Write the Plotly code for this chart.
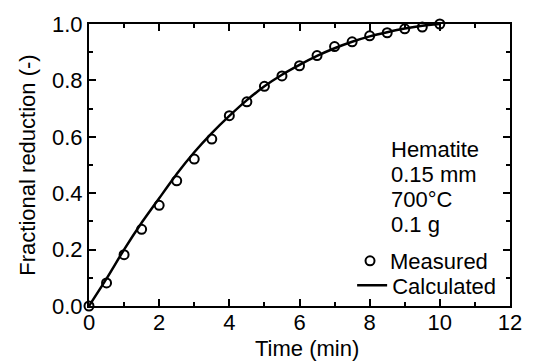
import plotly.graph_objects as go

# Measured data (open circles)
t_meas = [0, 0.5, 1, 1.5, 2, 2.5, 3, 3.5, 4, 4.5, 5, 5.5, 6, 6.5, 7, 7.5, 8, 8.5, 9, 9.5, 10]
x_meas = [0, 0.082, 0.182, 0.272, 0.357, 0.444, 0.521, 0.592, 0.675, 0.724, 0.779,
          0.816, 0.852, 0.888, 0.92, 0.937, 0.958, 0.969, 0.983, 0.989, 1.0]

# Calculated curve (solid line)
t_calc = [0, 0.5, 1, 1.5, 2, 2.5, 3, 3.5, 4, 4.5, 5, 5.5, 6, 6.5, 7, 7.5, 8, 8.5, 9, 9.5, 10]
x_calc = [0, 0.097, 0.2, 0.295, 0.382, 0.468, 0.545, 0.613, 0.674, 0.73, 0.779,
          0.82, 0.855, 0.887, 0.914, 0.937, 0.956, 0.971, 0.984, 0.994, 1.0]

x_ticks = [0, 2, 4, 6, 8, 10, 12]
y_ticks = [0.0, 0.2, 0.4, 0.6, 0.8, 1.0]
y_ticklabels = ["0.0", "0.2", "0.4", "0.6", "0.8", "1.0"]

conditions = ["Hematite", "0.15 mm", "700°C", "0.1 g"]
x_title = "Time (min)"
y_title = "Fractional reduction (-)"

FONT = "Liberation Sans, Arial, sans-serif"
FS = 22

fig = go.Figure()
fig.add_trace(go.Scatter(
    x=t_meas, y=x_meas, mode="markers", name="Measured",
    marker=dict(symbol="circle-open", size=9, color="black", line=dict(width=2)),
    cliponaxis=False, legend="legend",
))
fig.add_trace(go.Scatter(
    x=t_calc, y=x_calc, mode="lines", name="Calculated",
    line=dict(color="black", width=2.5, shape="spline", smoothing=0.6),
    cliponaxis=False, legend="legend2",
))

axis_common = dict(
    showline=True, linecolor="black", linewidth=2, mirror="ticks",
    ticks="inside", ticklen=7, tickwidth=2, tickcolor="black",
    showgrid=False, zeroline=False,
    tickfont=dict(family=FONT, size=FS, color="black"),
)

fig.update_xaxes(
    range=[0, 12], tickvals=x_ticks, ticktext=[str(v) for v in x_ticks],
    minor=dict(ticks="inside", dtick=1, ticklen=4, tickwidth=1.5, tickcolor="black"),
    ticklabelstandoff=-4,
    **axis_common,
)
fig.update_yaxes(
    range=[0, 1], tickvals=y_ticks, ticktext=y_ticklabels,
    minor=dict(ticks="inside", dtick=0.1, ticklen=4, tickwidth=1.5, tickcolor="black"),
    title=dict(text=y_title, font=dict(family=FONT, size=FS, color="black"), standoff=10),
    **axis_common,
)

# x-axis title (slightly right of centre, as in the original)
fig.add_annotation(
    x=0.519, y=-0.152, xref="paper", yref="paper",
    text=x_title, showarrow=False, xanchor="center", yanchor="middle",
    font=dict(family=FONT, size=FS, color="black"),
)

for i, line in enumerate(conditions):
    fig.add_annotation(
        x=0.712, y=0.556 - i * 0.0885, xref="paper", yref="paper",
        text=line, showarrow=False,
        xanchor="left", yanchor="middle", align="left",
        font=dict(family=FONT, size=FS, color="black"),
    )

legend_common = dict(
    xanchor="left", yanchor="top",
    bgcolor="rgba(0,0,0,0)", borderwidth=0,
    font=dict(family=FONT, size=FS, color="black"),
    itemwidth=30,
)

fig.update_layout(
    width=534, height=361,
    margin=dict(l=89, r=15, t=20, b=55),
    plot_bgcolor="white", paper_bgcolor="white",
    font=dict(family=FONT, color="black"),
    legend=dict(x=0.62, y=0.234, **legend_common),
    legend2=dict(x=0.625, y=0.147, **legend_common),
    showlegend=True,
)

fig.write_html("out.html")
